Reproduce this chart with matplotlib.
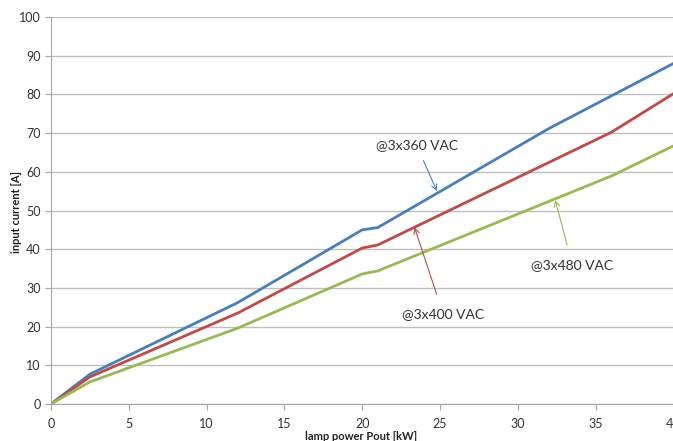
import matplotlib
matplotlib.use("Agg")
import matplotlib.pyplot as plt

plt.rcParams['font.family'] = ['Lato', 'DejaVu Sans']

# data
x_360 = [0, 2.5, 12, 20, 21, 32, 40]
y_360 = [0, 7.7, 26.2, 45.0, 45.6, 71.2, 88.0]

x_400 = [0, 2.5, 12, 20, 21, 36, 40]
y_400 = [0, 7.0, 23.5, 40.3, 41.1, 70.2, 80.2]

x_480 = [0, 2.5, 12, 20, 21, 36, 40]
y_480 = [0, 5.7, 19.6, 33.6, 34.4, 58.9, 66.7]

blue = '#4A7EBB'
red = '#BE4B48'
green = '#98B954'

fig = plt.figure(figsize=(6.73, 4.41), dpi=100)
ax = fig.add_axes([51/673, 1-404/441, (673.5-51)/673, (404-17)/441])

ax.plot(x_360, y_360, color=blue, lw=2.0, solid_joinstyle='round')
ax.plot(x_400, y_400, color=red, lw=2.0, solid_joinstyle='round')
ax.plot(x_480, y_480, color=green, lw=2.0, solid_joinstyle='round')

ax.set_xlim(0, 40)
ax.set_ylim(0, 100)
ax.set_xticks(range(0, 41, 5))
ax.set_yticks(range(0, 101, 10))
ax.yaxis.grid(True, color='#BFBFBF', lw=1)
ax.set_axisbelow(True)
for s in ['top', 'right']:
    ax.spines[s].set_visible(False)
for s in ['left', 'bottom']:
    ax.spines[s].set_color('#A6A6A6')
ax.tick_params(colors='#A6A6A6', labelcolor='#333333', labelsize=9, length=4)
ax.tick_params(axis='x', pad=6)

# annotations
ax.annotate('@3x360 VAC', xy=(24.8, 55), xytext=(23.5, 66.8), ha='center', va='center',
            fontsize=10, color='#333333',
            arrowprops=dict(arrowstyle='->', color=blue, lw=0.8, shrinkA=5, shrinkB=0))
ax.annotate('@3x400 VAC', xy=(23.35, 45.7), xytext=(25.2, 23.3), ha='center', va='center',
            fontsize=10, color='#333333',
            arrowprops=dict(arrowstyle='->', color=red, lw=0.8, shrinkA=8, shrinkB=0))
ax.annotate('@3x480 VAC', xy=(32.4, 52.7), xytext=(33.5, 36.0), ha='center', va='center',
            fontsize=10, color='#333333',
            arrowprops=dict(arrowstyle='->', color=green, lw=0.8, shrinkA=8, shrinkB=0))

fig.text(17/673, 1-212/441, 'input current [A]', rotation=90, ha='center', va='center',
         fontsize=8, fontweight='bold', color='#222222')
fig.text(361/673, 1-437/441, 'lamp power Pout [kW]', ha='center', va='center',
         fontsize=8, fontweight='bold', color='#222222')

fig.savefig('out.png', dpi=100)
